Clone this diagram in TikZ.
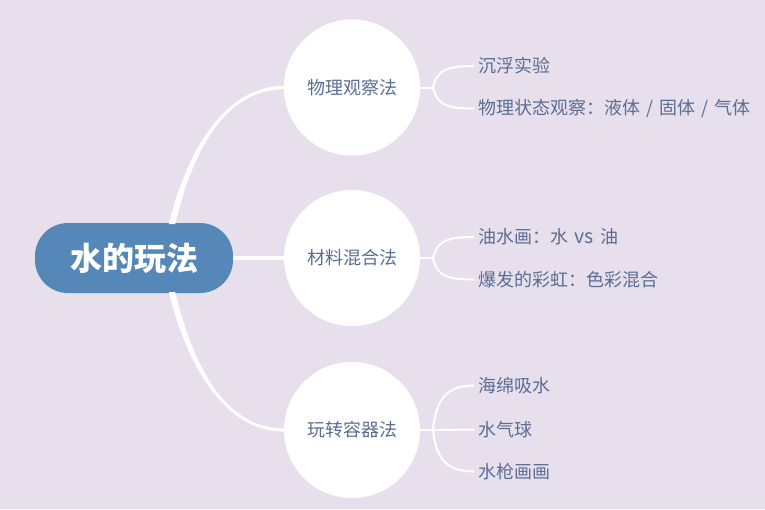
\documentclass[tikz,border=0pt]{standalone}
\usepackage{fontspec}
\setmainfont{Noto Sans CJK SC}
\usetikzlibrary{calc}
\definecolor{bg}{HTML}{E8DFED}
\definecolor{rootblue}{HTML}{5587B8}
\definecolor{txt}{HTML}{5A6D93}
\newcommand{\slsep}{\makebox[1.05em]{/}}
\tikzset{
  x=1pt, y=-1pt,
  rootbox/.style={fill=rootblue, rounded corners=33pt, minimum width=198pt, minimum height=70pt, inner sep=0pt, text=white, font=\fontsize{32}{32}\selectfont\bfseries},
  circ/.style={circle, fill=white, minimum size=136pt, inner sep=0pt, text=txt, font=\fontsize{18}{18}\selectfont},
  leaf/.style={anchor=west, inner sep=0pt, text=txt, font=\fontsize{18}{18}\selectfont},
  brace/.style={draw=white, line width=2pt},
}
\begin{document}
\begin{tikzpicture}
\fill[bg] (0,0) rectangle (765,509);
\useasboundingbox (0,0) rectangle (765,509);

\node[rootbox] (root) at (134,258) {水的玩法};
\node[circ] (c1) at (352,87.5) {物理观察法};
\node[circ] (c2) at (352,258) {材料混合法};
\node[circ] (c3) at (352,430) {玩转容器法};

\coordinate (r1) at (172,224);
\coordinate (r3) at (172,292);

% tapered main connectors
\fill[white] ([xshift=-3.2pt]r1) .. controls (187,150) and (225,86.3) .. ([yshift=1.6pt]c1.west)
  -- ([yshift=-1.6pt]c1.west) .. controls (225,89.7) and (193,150) .. ([xshift=3.2pt]r1) -- cycle;
\fill[white] ([xshift=-3.2pt]r3) .. controls (187,366) and (225,431.7) .. ([yshift=-1.6pt]c3.west)
  -- ([yshift=1.6pt]c3.west) .. controls (225,428.3) and (193,366) .. ([xshift=3.2pt]r3) -- cycle;
\draw[white, line width=3.4pt] (root.east) -- (c2.west);

% leaves
\node[leaf] (l11) at (478,66) {沉浮实验};
\node[leaf] (l12) at (478,108.5) {物理状态观察：液体\slsep 固体\slsep 气体};
\node[leaf] (l21) at (478,237) {油水画：水\makebox[1.78em]{\fontsize{19.5}{19.5}\selectfont vs}油};
\node[leaf] (l22) at (478,279.5) {爆发的彩虹：色彩混合};
\node[leaf] (l31) at (478,385.5) {海绵吸水};
\node[leaf] (l32) at (478,429.5) {水气球};
\node[leaf] (l33) at (478,471.5) {水枪画画};

\coordinate (b1) at (433,87.5);
\coordinate (b2) at (433,258);
\coordinate (b3) at (433,430);

\draw[brace] (c1.east) -- (b1);
\draw[brace] (b1) .. controls (437,70) and (447,66) .. ([xshift=-4pt]l11.west);
\draw[brace] (b1) .. controls (437,105) and (447,108.5) .. ([xshift=-4pt]l12.west);

\draw[brace] (c2.east) -- (b2);
\draw[brace] (b2) .. controls (437,241) and (447,237) .. ([xshift=-4pt]l21.west);
\draw[brace] (b2) .. controls (437,276) and (447,279.5) .. ([xshift=-4pt]l22.west);

\draw[brace] (c3.east) -- (b3);
\draw[brace] (b3) .. controls (436,398) and (448,385.5) .. ([xshift=-4pt]l31.west);
\draw[brace] (b3) -- ([xshift=-4pt]l32.west);
\draw[brace] (b3) .. controls (436,460) and (448,471.5) .. ([xshift=-4pt]l33.west);
\end{tikzpicture}
\end{document}
